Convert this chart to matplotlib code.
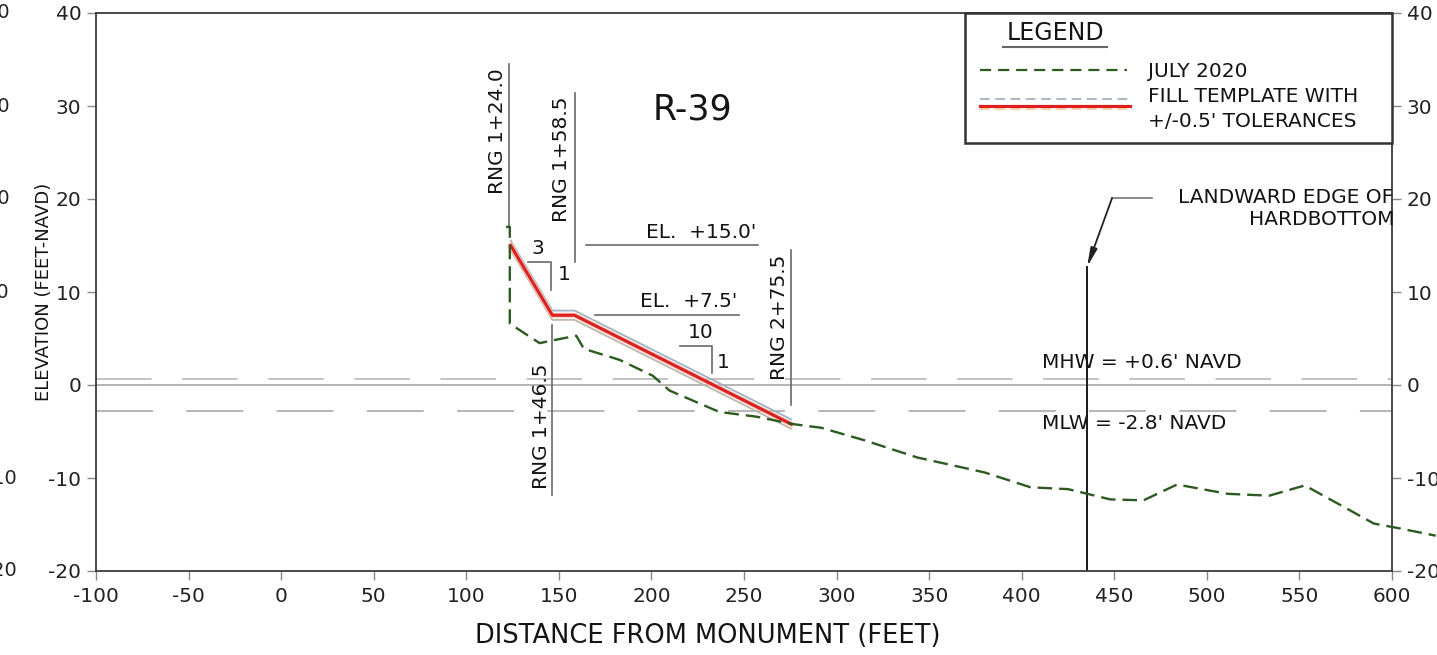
import matplotlib
matplotlib.use('Agg')
import matplotlib.pyplot as plt
from matplotlib.transforms import blended_transform_factory
from matplotlib.patches import Rectangle

plt.rcParams['font.family'] = ['DejaVu Sans']
plt.rcParams['axes.unicode_minus'] = False
plt.rcParams['lines.scale_dashes'] = False

# ---------------- data ----------------
survey_x = [121.5, 123.5, 123.5, 139.6, 146.8, 159.4, 163.5, 182.8, 200.7, 209.8,
            236.7, 256.5, 276.3, 291.7, 314.3, 343.7, 359.6, 379.9, 404.8, 425.1,
            447.8, 465.8, 483.9, 511.1, 533.7, 552.9, 572.1, 590.2, 603.7, 623.6]
survey_y = [17.0, 17.0, 6.6, 4.5, 4.8, 5.3, 3.9, 2.7, 1.0, -0.6,
            -2.9, -3.4, -4.2, -4.6, -5.9, -7.8, -8.5, -9.4, -11.0, -11.2,
            -12.3, -12.4, -10.7, -11.7, -11.9, -10.8, -12.9, -14.9, -15.4, -16.2]
template_x = [124.0, 146.5, 158.5, 275.5]
template_y = [15.0, 7.5, 7.5, -4.2]
tolerance = 0.5
mhw = 0.6
mlw = -2.8
hardbottom_x = 435.3
x_ticks = list(range(-100, 601, 50))
y_ticks = list(range(-20, 41, 10))
edge_labels = [40, 30, 20, 10, -10, -20]
station_labels = ["RNG 1+24.0", "RNG 1+58.5", "RNG 1+46.5", "RNG 2+75.5"]
title = "R-39"

W, H = 1437, 655
fig = plt.figure(figsize=(W / 100, H / 100), dpi=100)
fig.patch.set_facecolor('white')
ax = fig.add_axes([96 / W, 84 / H, (1392 - 96) / W, (571 - 13) / H])
ax.set_xlim(-100, 600)
ax.set_ylim(-20, 40)
ax.set_xticks(x_ticks)
ax.set_yticks(y_ticks)
for s in ax.spines.values():
    s.set_color('#3a3a3a')
    s.set_linewidth(1.3)
ax.tick_params(axis='both', direction='out', length=6.5, width=1, color='#888',
               labelsize=14.5, labelcolor='#222')
ax.tick_params(axis='y', left=True, right=True, labelleft=True, labelright=True, pad=4)
ax.tick_params(axis='x', pad=5)

txt = '#141414'
ann = '#6a6a6a'
fs = 14.5

# water levels
ax.axhline(0, color='#a8a8a8', lw=1.2, zorder=1)
ax.axhline(mhw, color='#bdbdbd', lw=1.3, dashes=(40, 22), zorder=1)
ax.axhline(mlw, color='#b0b0b0', lw=1.3, dashes=(41, 24), zorder=1)

# template with tolerances
up = [v + tolerance for v in template_y]
lo = [v - tolerance for v in template_y]
ax.plot(template_x, up, color='#a3b2c0', lw=1.3, zorder=3)
ax.plot(template_x, lo, color='#c4b6a8', lw=1.3, zorder=3)
ax.plot(template_x, template_y, color='#f6c4b8', lw=3.6, zorder=3)
ax.plot(template_x, template_y, color='#dd1f1f', lw=2.2, zorder=4)

# survey profile
ax.plot(survey_x, survey_y, color='#2c5a20', lw=1.7, dashes=(10.5, 5),
        clip_on=False, zorder=5)

# station lines and labels
ax.plot([123.2, 123.2], [17.0, 34.5], color=ann, lw=1.2)
ax.plot([158.5, 158.5], [13.2, 31.4], color=ann, lw=1.2)
ax.plot([146.3, 146.3], [6.4, -11.8], color=ann, lw=1.2)
ax.plot([275.4, 275.4], [14.5, -2.1], color=ann, lw=1.2)
for (sx, sy), lab in zip([(116.6, 27.3), (151.3, 24.3), (140.5, -4.4), (269.1, 7.3)],
                         station_labels):
    ax.text(sx, sy, lab, rotation=90, ha='center', va='center', fontsize=fs, color=txt)

# elevation callouts
ax.plot([164.4, 257.4], [15.1, 15.1], color=ann, lw=1.2)
ax.text(256.5, 16.4, "EL.  +15.0'", ha='right', va='center', fontsize=fs, color=txt)
ax.plot([169.3, 247.5], [7.5, 7.5], color=ann, lw=1.2)
ax.text(246.6, 9.0, "EL.  +7.5'", ha='right', va='center', fontsize=fs, color=txt)

# slope indicators
ax.plot([133.3, 145.9, 145.9], [13.2, 13.2, 10.2], color=ann, lw=1.2)
ax.text(138.5, 14.7, "3", ha='center', va='center', fontsize=fs, color=txt)
ax.text(153.1, 11.9, "1", ha='center', va='center', fontsize=fs, color=txt)
ax.plot([215.2, 232.6, 232.6], [4.2, 4.2, 1.3], color=ann, lw=1.2)
ax.text(226.5, 5.6, "10", ha='center', va='center', fontsize=fs, color=txt)
ax.text(238.6, 2.4, "1", ha='center', va='center', fontsize=fs, color=txt)

ax.text(222, 29.6, title, ha='center', va='center', fontsize=25, color=txt)

ax.text(411, 2.4, "MHW = +0.6' NAVD", ha='left', va='center', fontsize=fs, color=txt)
ax.text(411, -4.1, "MLW = -2.8' NAVD", ha='left', va='center', fontsize=fs, color=txt)

# hardbottom
ax.plot([hardbottom_x, hardbottom_x], [12.7, -20], color='#1a1a1a', lw=1.4, zorder=2)
ax.plot([448.8, 470.4], [20.1, 20.1], color='#777', lw=1.2)
ax.annotate('', xy=(hardbottom_x, 12.7), xytext=(448.8, 20.1),
            arrowprops=dict(arrowstyle='-|>,head_length=1.1,head_width=0.2',
                            color='#222', lw=1.3, shrinkA=0, shrinkB=0))
ax.text(600.5, 20.2, "LANDWARD EDGE OF", ha='right', va='center', fontsize=fs, color=txt)
ax.text(601.5, 17.8, "HARDBOTTOM", ha='right', va='center', fontsize=fs, color=txt)

# legend box
ax.add_patch(Rectangle((369.4, 26.0), 600 - 369.4, 40 - 26.0, facecolor='white',
                       edgecolor='#333', lw=1.8, zorder=6, clip_on=False))
ax.text(418.0, 37.85, "LEGEND", ha='center', va='center', fontsize=17, color=txt, zorder=7)
ax.plot([389.9, 446.1], [36.3, 36.3], color='#666', lw=1.5, zorder=7)
ax.plot([377.6, 456.7], [33.9, 33.9], color='#2c5a20', lw=1.6, dashes=(8, 5), zorder=7)
ax.text(468.2, 33.7, "JULY 2020", ha='left', va='center', fontsize=fs, color=txt, zorder=7)
ax.plot([377.6, 458.3], [30.72, 30.72], color='#a9b7c4', lw=1.4, dashes=(7, 4), zorder=7)
ax.plot([377.6, 458.3], [30.0, 30.0], color='#dd1f1f', lw=2.3, zorder=7)
ax.plot([377.6, 458.3], [29.7, 29.7], color='#f0c890', lw=1.2, dashes=(7, 4), zorder=7)
ax.text(468.2, 31.0, "FILL TEMPLATE WITH", ha='left', va='center', fontsize=fs, color=txt, zorder=7)
ax.text(468.2, 28.3, "+/-0.5' TOLERANCES", ha='left', va='center', fontsize=fs, color=txt, zorder=7)

# axis labels
fig.text(44 / W, 1 - 292 / H, "ELEVATION (FEET-NAVD)", rotation=90, ha='center',
         va='center', fontsize=13, color=txt)
fig.text(708 / W, 1 - 636 / H, "DISTANCE FROM MONUMENT (FEET)", ha='center',
         va='center', fontsize=18.5, color=txt)

# labels of the neighbouring sheet, cut by the left image edge as in the reference
trans = blended_transform_factory(fig.transFigure, ax.transData)
for v in edge_labels:
    ax.text(-14.7 / W, v, str(v), transform=trans, ha='left', va='center',
            fontsize=14, color='#222', clip_on=False)

fig.savefig('out.png', dpi=100)
